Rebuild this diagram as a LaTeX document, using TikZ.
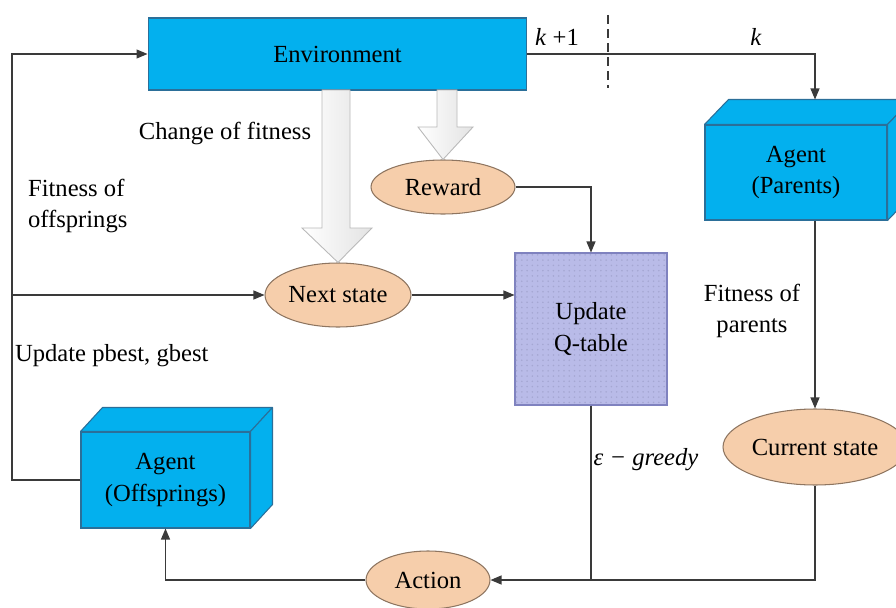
\documentclass[tikz,border=0pt]{standalone}
\usepackage{fontspec}
\setmainfont{Liberation Serif}
\usetikzlibrary{shapes.geometric, arrows.meta, positioning, calc, patterns}
\definecolor{envBlueF}{HTML}{03B0EE}
\definecolor{envBlueS}{HTML}{2B6F99}
\definecolor{statePeachF}{HTML}{F6CEAB}
\definecolor{statePeachS}{HTML}{8E7560}
\definecolor{qLavF}{HTML}{B9BBE8}
\definecolor{qLavS}{HTML}{7F82BF}
\definecolor{lineGray}{HTML}{3A3A3A}
\newcommand{\stxt}[1]{\makebox[0pt]{#1}}
\tikzset{
  >={Triangle[length=2.2mm, width=1.8mm]},
  txt/.style={font=\fontsize{14}{18}\selectfont, inner sep=1pt},
  bluebox/.style={txt, draw=envBlueS, fill=envBlueF, line width=0.6pt,
    align=center, inner sep=0pt},
  cube/.style={bluebox},
  cubeface/.style={draw=envBlueS, fill=envBlueF, line width=0.6pt, line join=round},
  state/.style={txt, ellipse, draw=statePeachS, fill=statePeachF,
    line width=0.6pt, inner sep=0pt},
  qbox/.style={txt, draw=qLavS, fill=qLavF, line width=0.6pt, align=center,
    postaction={pattern=dots, pattern color=qLavS!70}},
  flow/.style={->, line width=0.6pt, draw=lineGray},
  hollow/.style={draw=gray!55, line width=0.5pt, left color=white,
    right color=gray!22, line join=miter},
}

\begin{document}
\begin{tikzpicture}[x=0.02cm, y=-0.02cm]
  \useasboundingbox (0,0) rectangle (896,608);

  % ---- Environment and the two agents ---------------------------------------
  \node[bluebox, minimum width=7.58cm, minimum height=1.44cm] (env) at (337.5,54) {Environment};

  \node[cube, minimum width=3.64cm, minimum height=1.9cm] (par) at (796,172.5) {};
  \draw[cubeface] (par.north west) -- ++(24,-25) -- ($(par.north east)+(24,-25)$)
        -- (par.north east) -- cycle;
  \draw[cubeface] (par.north east) -- ++(24,-25) -- ($(par.south east)+(24,-25)$)
        -- (par.south east) -- cycle;
  \node[txt, align=center] at (par) {Agent\\(Parents)};

  \node[cube, minimum width=3.38cm, minimum height=1.92cm] (off) at (165.5,480) {};
  \draw[cubeface] (off.north west) -- ++(22,-24) -- ($(off.north east)+(22,-24)$)
        -- (off.north east) -- cycle;
  \draw[cubeface] (off.north east) -- ++(22,-24) -- ($(off.south east)+(22,-24)$)
        -- (off.south east) -- cycle;
  \node[txt, align=center] at (off) {Agent\\(Offsprings)};

  % ---- States, reward, action and Q-table -----------------------------------
  \node[state, minimum width=2.88cm, minimum height=1.08cm] (rew) at (443,187) {\stxt{Reward}};
  \node[state, minimum width=2.92cm, minimum height=1.28cm] (next) at (338,295) {\stxt{Next state}};
  \node[state, minimum width=3.68cm, minimum height=1.52cm] (cur) at (815,447) {\stxt{Current state}};
  \node[state, minimum width=2.48cm, minimum height=1.16cm] (act) at (428,580) {\stxt{Action}};
  \node[qbox, minimum width=3.04cm, minimum height=3.04cm] (q) at (591,329) {};
  \node[txt, align=center] at (q) {Update\\Q-table};

  % ---- Hollow arrows out of the environment ---------------------------------
  \draw[hollow] (322,90) -- (350,90) -- (350,228) -- (372,228) -- (next.north)
        -- (302,228) -- (322,228) -- cycle;
  \draw[hollow] (437,90) -- (457,90) -- (457,127) -- (473,127) -- (rew.north)
        -- (418,127) -- (437,127) -- cycle;

  % ---- Connectors -----------------------------------------------------------
  \coordinate (lft) at (12,480);
  \draw[flow] (off.west) -- (lft) |- (env.west);
  \draw[flow] (lft |- next.west) -- (next.west);
  \draw[flow] (next.east) -- (next.east -| q.west);
  \draw[flow] (rew.east) -| (q.north);
  \draw[flow] (env.east) -| ($(cur.north |- par.north)+(0,-25)$);
  \draw[flow] (cur.north |- par.south) -- (cur.north);
  \draw[flow] (cur.south) |- (act.east);
  \draw[line width=0.6pt, draw=lineGray] (q.south) -- (q.south |- act.east);
  \draw[flow] (act.west) -| (off.south);
  \draw[line width=0.9pt, draw=lineGray, dash pattern=on 5pt off 3pt] (608,15) -- (608,88);

  % ---- Labels ---------------------------------------------------------------
  \node[txt] (kone) at (557,37) {\textit{k} +1};
  \node[txt] (kk) at (756,37) {\textit{k}};
  \node[txt] (chg) at (225,133) {Change of fitness};
  \node[txt, align=left, anchor=west] (fof) at (26,206) {Fitness of\\offsprings};
  \node[txt, anchor=west] (upd) at (13,356) {Update pbest, gbest};
  \node[txt, align=center] (fop) at (752,311) {Fitness of\\parents};
  \node[txt] (eps) at (646,460) {\textit{ε − greedy}};

\end{tikzpicture}
\end{document}
